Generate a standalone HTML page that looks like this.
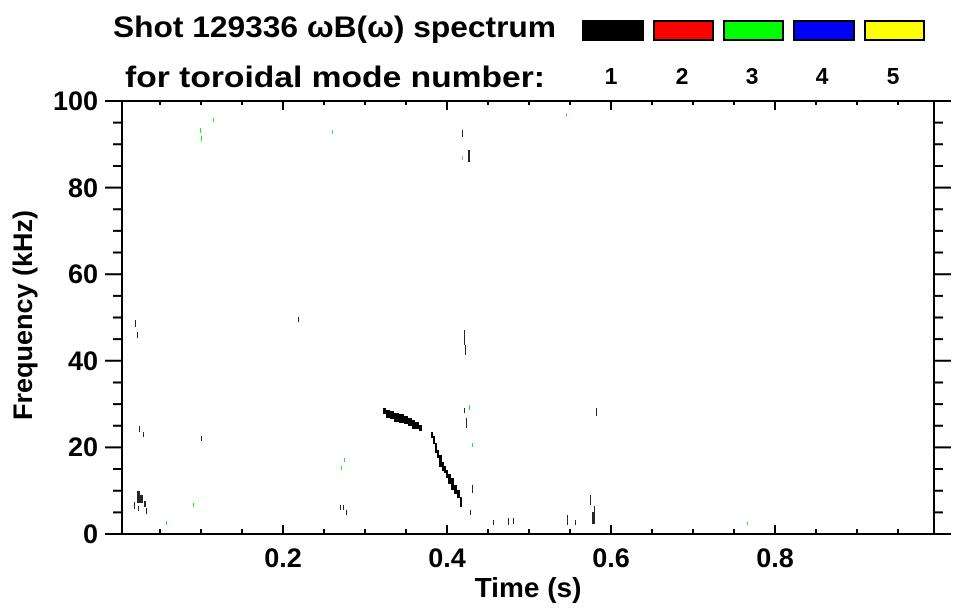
<!DOCTYPE html>
<html><head><meta charset="utf-8"><style>body{margin:0;background:#fff}svg{display:block}text{font-family:"Liberation Sans",sans-serif;font-weight:bold}</style></head>
<body>
<svg width="963" height="615" viewBox="0 0 963 615" xmlns="http://www.w3.org/2000/svg">
<text x="113" y="37" font-size="30" textLength="443" lengthAdjust="spacingAndGlyphs">Shot 129336 ωB(ω) spectrum</text>
<text x="125" y="87" font-size="30" textLength="420" lengthAdjust="spacingAndGlyphs">for toroidal mode number:</text>
<g stroke="#000" stroke-width="2">
<rect x="583" y="21" width="60" height="19" fill="#000"/>
<rect x="654" y="21" width="59" height="19" fill="#f00"/>
<rect x="724" y="21" width="59" height="19" fill="#0f0"/>
<rect x="794" y="21" width="60" height="19" fill="#00f"/>
<rect x="865" y="21" width="59" height="19" fill="#ff0"/>
</g>
<g font-size="23" text-anchor="middle">
<text x="611" y="84">1</text><text x="682" y="84">2</text><text x="752" y="84">3</text><text x="822" y="84">4</text><text x="893" y="84">5</text>
</g>
<g fill="#000">
<path d="M383 408h3v6h-3zM386 410h4v8h-4zM390 411h4v8h-4zM394 413h5v9h-5zM399 414h5v9h-5zM404 416h4v8h-4zM408 418h4v8h-4zM412 420h3v9h-3zM415 422h4v7h-4zM419 425h3v6h-3z"/>
<path d="M431 432h2v6h-2zM433 436h2v8h-2zM435 443h2v10h-2zM437 450h2v8h-2zM439 455h3v12h-3zM442 462h2v9h-2zM444 466h2v7h-2zM446 470h2v8h-2zM448 474h3v10h-3zM451 478h3v12h-3zM454 485h3v9h-3zM457 490h3v8h-3zM460 497h2v10h-2z"/>
<path d="M137 491h3v12h-3zM140 495h3v8h-3zM144 501h2v6h-2zM146 508h1v6h-1zM138 506h1v5h-1zM134 502h1v7h-1zM139 426h1v6h-1zM143 432h1v5h-1zM135 320h1v7h-1zM137 332h1v6h-1zM201 436h1v5h-1zM298 317h1v5h-1zM340 505h1v5h-1zM343 505h1v5h-1zM346 510h1v5h-1zM464 408h1v5h-1zM466 418h1v10h-1zM462 130h1v7h-1zM468 150h2v12h-2zM464 330h1v15h-1zM465 345h1v10h-1zM472 485h1v8h-1zM470 510h1v5h-1zM493 520h1v5h-1zM508 518h1v7h-1zM513 518h1v6h-1zM567 515h1v10h-1zM590 495h1v10h-1zM594 506h1v18h-1zM596 408h1v8h-1zM592 512h2v12h-2zM575 520h1v5h-1z" opacity="0.85"/>
</g>
<g fill="#0f0">
<rect x="200" y="128" width="1" height="5"/><rect x="201" y="136" width="1" height="5"/><rect x="213" y="118" width="1" height="4"/><rect x="332" y="130" width="1" height="4"/><rect x="166" y="521" width="1" height="4"/><rect x="193" y="503" width="1" height="4"/><rect x="344" y="458" width="1" height="4"/><rect x="341" y="466" width="1" height="4"/><rect x="469" y="405" width="1" height="5"/><rect x="472" y="443" width="1" height="4"/><rect x="747" y="522" width="1" height="3"/>
</g>
<g fill="#f8a">
<rect x="462" y="156" width="1" height="4"/><rect x="566" y="113" width="1" height="4"/>
</g>
<g stroke="#000" stroke-width="2" fill="none">
<rect x="122" y="101" width="812" height="433"/>
</g>
<g stroke="#000" stroke-width="2">
<path d="M283 534v-9M447 534v-9M611 534v-9M775 534v-9M283 101v9M447 101v9M611 101v9M775 101v9M160 534v-5M201 534v-5M242 534v-5M324 534v-5M365 534v-5M406 534v-5M488 534v-5M529 534v-5M570 534v-5M652 534v-5M693 534v-5M734 534v-5M816 534v-5M857 534v-5M898 534v-5M160 101v4M201 101v4M242 101v4M324 101v4M365 101v4M406 101v4M488 101v4M529 101v4M570 101v4M652 101v4M693 101v4M734 101v4M816 101v4M857 101v4M898 101v4"/>
<path d="M105 534h17M105 447.4h17M105 360.8h17M105 274.2h17M105 187.6h17M105 101h17M934 534h17M934 447.4h17M934 360.8h17M934 274.2h17M934 187.6h17M934 101h17"/>
<path d="M113 512.35h9M113 490.7h9M113 469.05h9M113 425.75h9M113 404.1h9M113 382.45h9M113 339.15h9M113 317.5h9M113 295.85h9M113 252.55h9M113 230.9h9M113 209.25h9M113 165.95h9M113 144.3h9M113 122.65h9M934 512.35h9M934 490.7h9M934 469.05h9M934 425.75h9M934 404.1h9M934 382.45h9M934 339.15h9M934 317.5h9M934 295.85h9M934 252.55h9M934 230.9h9M934 209.25h9M934 165.95h9M934 144.3h9M934 122.65h9"/>
</g>
<g font-size="27" text-anchor="end">
<text x="98" y="543">0</text><text x="98" y="456">20</text><text x="98" y="370">40</text><text x="98" y="283">60</text><text x="98" y="197">80</text><text x="98" y="110">100</text>
</g>
<g font-size="27" text-anchor="middle">
<text x="283" y="567">0.2</text><text x="447" y="567">0.4</text><text x="611" y="567">0.6</text><text x="775" y="567">0.8</text>
<text x="528" y="597" font-size="28">Time (s)</text>
</g>
<text font-size="27" text-anchor="middle" transform="translate(32,315) rotate(-90)">Frequency (kHz)</text>
</svg>
</body></html>
